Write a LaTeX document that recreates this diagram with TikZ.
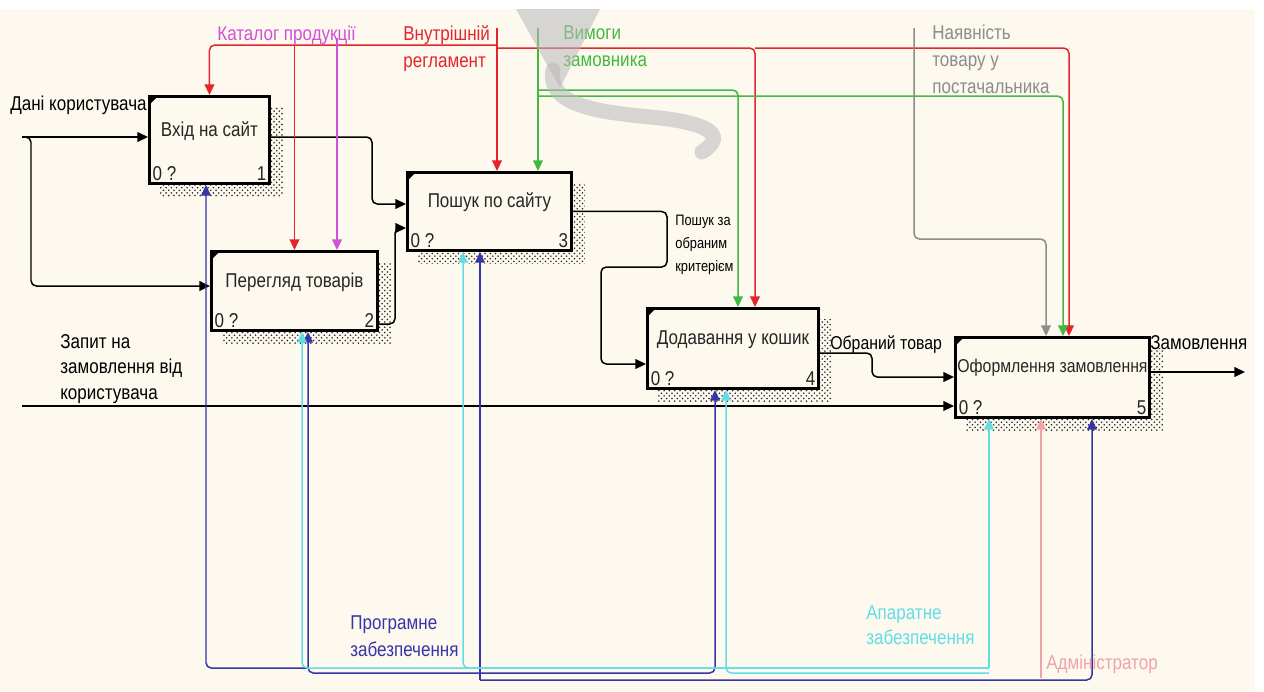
\documentclass[tikz,border=0pt]{standalone}
\usepackage{fontspec}
\setmainfont[FakeStretch=0.85]{Liberation Sans}
\usetikzlibrary{arrows.meta,patterns,backgrounds,positioning}

\definecolor{paper}{HTML}{FDF9EF}
\definecolor{ctrlred}{HTML}{E3262B}
\definecolor{ctrlmag}{HTML}{D24FDA}
\definecolor{ctrlgreen}{HTML}{41B941}
\definecolor{ctrlgrey}{HTML}{8C8C8C}
\definecolor{mechblue}{HTML}{3535A8}
\definecolor{mechcyan}{HTML}{62DDE6}
\definecolor{mechpink}{HTML}{F2A3A3}

\newcommand{\boxfont}{\fontsize{11.4}{14}\selectfont}
\newcommand{\lblfont}{\fontsize{11.4}{15.4}\selectfont}

\tikzset{
  func/.style={draw, line width=1.7pt, fill=paper, inner sep=0pt, anchor=north west,
    text depth=0.45cm, font=\boxfont, text=black!85},
  num/.style={font=\boxfont, inner sep=2.5pt, text depth=0pt, text=black!85},
  flow/.style={line width=0.85pt, rounded corners=3pt, -{Triangle[length=6pt,width=5.5pt]}},
  lbl/.style={font=\lblfont, align=left, inner sep=0pt},
  hatch/.style={pattern=crosshatch dots, pattern color=black!85},
}

\begin{document}
\begin{tikzpicture}[x=0.02cm, y=-0.02cm]
\useasboundingbox (0,0) rectangle (1264,691);

% activity boxes
\node[func, minimum width=2.4cm, minimum height=1.74cm,
  label={[num,anchor=south west]south west:0 ?},
  label={[num,anchor=south east]south east:1}] (b1) at (148,95) {Вхід на сайт};
\node[func, minimum width=3.32cm, minimum height=1.58cm,
  label={[num,anchor=south west]south west:0 ?},
  label={[num,anchor=south east]south east:2}] (b2) at (210,250) {Перегляд товарів};
\node[func, minimum width=3.28cm, minimum height=1.56cm,
  label={[num,anchor=south west]south west:0 ?},
  label={[num,anchor=south east]south east:3}] (b3) at (406,171) {Пошук по сайту};
\node[func, minimum width=3.42cm, minimum height=1.6cm,
  label={[num,anchor=south west]south west:0 ?},
  label={[num,anchor=south east]south east:4}] (b4) at (646,307) {Додавання у кошик};
\node[func, minimum width=3.88cm, minimum height=1.6cm, font=\fontsize{10.6}{14}\selectfont,
  label={[num,anchor=south west]south west:0 ?},
  label={[num,anchor=south east]south east:5}] (b5) at (954,336) {Оформлення замовлення};

\foreach \i in {1,...,5}
  \fill ([shift={(1,1)}]b\i.north west) -- ++(9,0) -- ++(-9,9) -- cycle;

% inputs and outputs
\coordinate (user) at (22,137);
\coordinate (user2) at (31,286);
\draw[flow] (user) -- (user -| b1.west);
\draw[flow] (user) -| (user2) -- (user2 -| b2.west);
\node[lbl, anchor=base west] (tuser) at (10,110) {Дані користувача};

\coordinate (j1) at (372,204);
\draw[flow] (b1.east |- user) -| (j1) -- (j1 -| b3.west);
\coordinate (j2a) at (395,324);
\coordinate (j2) at (395,228);
\draw[flow] (b2.east |- j2a) -| (j2) -- (j2 -| b3.west);

\coordinate (k1) at (667,267);
\coordinate (k2) at (601,364);
\draw[flow] (b3.east) -| (k1) -| (k2) -- (k2 -| b4.west);
\node[lbl, anchor=north west, font=\fontsize{8.6}{13}\selectfont] (tsearch) at (675,215) {Пошук за\\обраним\\критерієм};

\coordinate (m0) at (872,353);
\coordinate (m1) at (872,377);
\draw[flow] (b4.east |- m0) -- (m0) -- (m1) -- (m1 -| b5.west);
\node[lbl, anchor=base west, font=\fontsize{10.6}{14}\selectfont] (tchosen) at (830,349) {Обраний товар};

\coordinate (ordreq) at (22,406);
\draw[flow] (ordreq) -- (ordreq -| b5.west);
\node[lbl, anchor=north west, font=\fontsize{11.4}{14.6}\selectfont] (tordreq) at (60,334) {Запит на\\замовлення від\\користувача};

\coordinate (order) at (1245,372);
\draw[flow] (b5.east |- order) -- (order);
\node[lbl, anchor=base west] (torder) at (1150,349) {Замовлення};

% controls
\coordinate (reg) at (497,28);
\coordinate (regL) at (497,45);
\coordinate (regR) at (497,48);
\coordinate (r4) at (755,48);
\coordinate (r5) at (1069,48);
\draw[flow, ctrlred] (reg) -- (reg |- b3.north);
\draw[flow, ctrlred] (regL) -| (b1.north);
\draw[flow, ctrlred] (b2.north |- regL) -- (b2.north);
\draw[flow, ctrlred] (regR) -- (r4) -- (r4 |- b4.north);
\draw[flow, ctrlred] (r4) -- (r5) -- (r5 |- b5.north);
\node[lbl, anchor=north west, text=ctrlred] (treg) at (403,25) {Внутрішній\\регламент};

\coordinate (cat) at (337,38);
\draw[flow, ctrlmag] (cat) -- (cat |- b2.north);
\node[lbl, anchor=base west, text=ctrlmag] (tcat) at (217,40) {Каталог продукції};

\coordinate (cust) at (538,28);
\coordinate (g4) at (738,90);
\coordinate (g5) at (1063,96);
\draw[flow, ctrlgreen] (cust) -- (cust |- b3.north);
\draw[flow, ctrlgreen] (cust |- g4) -- (g4) -- (g4 |- b4.north);
\draw[flow, ctrlgreen] (cust |- g5) -- (g5) -- (g5 |- b5.north);
\node[lbl, anchor=north west, text=ctrlgreen] (tcust) at (563,25) {Вимоги\\замовника};

\coordinate (avail) at (914,28);
\coordinate (gy) at (1046,239);
\draw[flow, ctrlgrey] (avail) |- (gy) -- (gy |- b5.north);
\node[lbl, anchor=north west, text=ctrlgrey] (tavail) at (932,25) {Наявність\\товару у\\постачальника};

% mechanisms
\coordinate (soft) at (480,680);
\coordinate (s1) at (206,668);
\coordinate (s2) at (308,673);
\coordinate (s4) at (715,673);
\coordinate (s5) at (1092,680);
\draw[flow, mechblue] (soft) -- (soft |- b3.south);
\draw[flow, mechblue] (s1 -| s2) -- (s1) -- (s1 |- b1.south);
\draw[flow, mechblue] (soft |- s2) -- (s2) -- (s2 |- b2.south);
\draw[flow, mechblue] (soft |- s4) -- (s4) -- (s4 |- b4.south);
\draw[flow, mechblue] (soft) -- (s5) -- (s5 |- b5.south);
\node[lbl, anchor=north west, text=mechblue] (tsoft) at (350,615) {Програмне\\забезпечення};

\coordinate (hard) at (989,668);
\coordinate (h2) at (302,668);
\coordinate (h3) at (463,668);
\coordinate (h4) at (726,673);
\draw[flow, mechcyan] (hard) -- (hard |- b5.south);
\draw[flow, mechcyan] (hard) -- (h2) -- (h2 |- b2.south);
\draw[flow, mechcyan] (hard) -- (h3) -- (h3 |- b3.south);
\draw[flow, mechcyan] (hard |- h4) -- (h4) -- (h4 |- b4.south);
\node[lbl, anchor=north west, text=mechcyan, font=\fontsize{11.4}{14.3}\selectfont] (thard) at (866,605) {Апаратне\\забезпечення};

\coordinate (admin) at (1041,678);
\draw[flow, mechpink] (admin) -- (admin |- b5.south);
\node[lbl, anchor=base west, text=mechpink] (tadmin) at (1046,669) {Адміністратор};

% watermark
\fill[gray!55, opacity=0.55] (516,9) -- (600,9) -- (560,88) -- cycle;
\draw[gray!55, opacity=0.55, line width=0.3cm, line cap=round]
  (553,70) .. controls (546,106) and (600,112) .. (650,117) .. controls (705,122) and (730,134) .. (702,152);

\begin{scope}[on background layer]
  \fill[white] (0,0) rectangle (1264,691);
  \fill[paper] (0,9) rectangle (1255,691);
  \foreach \i in {1,...,5}
    \fill[hatch] ([shift={(12,12)}]b\i.north west) rectangle ([shift={(12,12)}]b\i.south east);
\end{scope}
\end{tikzpicture}
\end{document}
